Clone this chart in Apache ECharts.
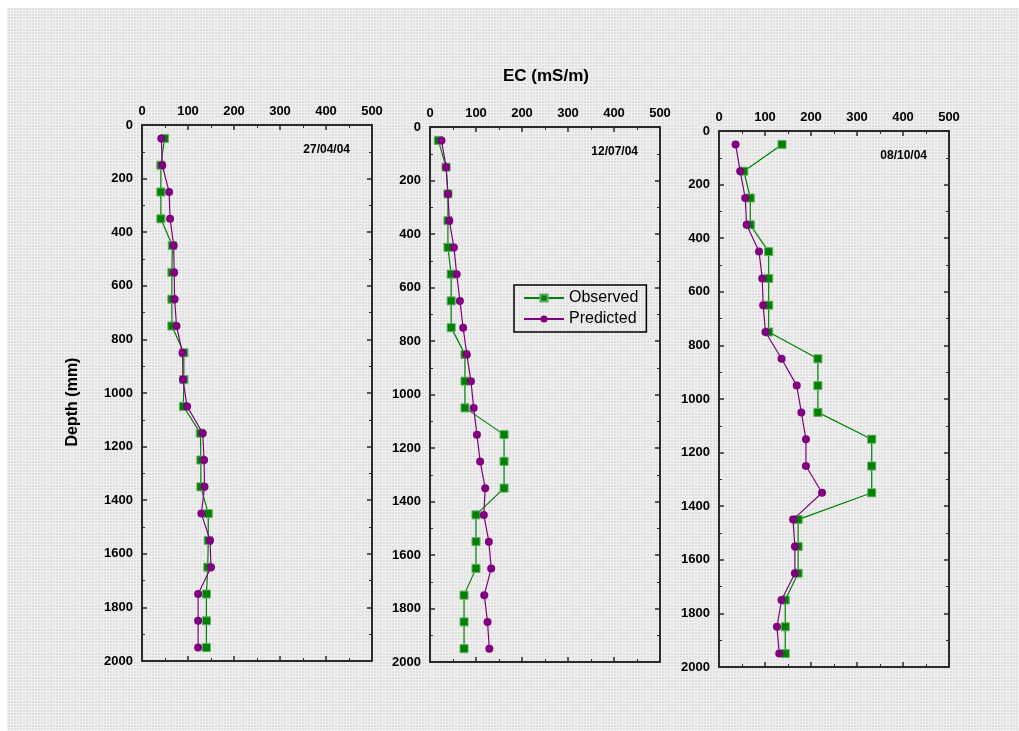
<!DOCTYPE html>
<html>
<head>
<meta charset="utf-8">
<script src="https://cdn.jsdelivr.net/npm/echarts@6/dist/echarts.min.js"></script>
<style>
  html, body { margin: 0; padding: 0; background: #ffffff; }
  #wrap { position: relative; width: 1019px; height: 731px; background: #ffffff; }
  #bg {
    position: absolute; left: 7px; top: 8px; right: 0; bottom: 0;
    background-color: #e0e0e0;
    background-image:
      repeating-linear-gradient(0deg, rgba(255,255,255,0.45) 0 1px, transparent 1px 3px),
      repeating-linear-gradient(90deg, rgba(255,255,255,0.45) 0 1px, transparent 1px 3px);
  }
  #chart { position: absolute; left: 0; top: 0; width: 1019px; height: 731px; }
</style>
</head>
<body>
<div id="wrap">
  <div id="bg"></div>
  <div id="chart"></div>
</div>
<script>
// Sampling depths (mm)
const depths = [50, 150, 250, 350, 450, 550, 650, 750, 850, 950,
                1050, 1150, 1250, 1350, 1450, 1550, 1650, 1750, 1850, 1950];

// Sampling dates, one panel each
const dates = ['27/04/04', '12/07/04', '08/10/04'];

// EC (mS/m) per date
const observed1 = [49, 41, 41, 41, 66, 65, 65, 65, 91, 91, 90, 127, 128, 128, 144, 144, 143, 140, 140, 140];
const predicted1 = [42, 44, 59, 61, 69, 70, 71, 75, 88, 89, 98, 132, 135, 136, 129, 148, 150, 122, 122, 122];

const observed2 = [18, 35, 39, 39, 39, 46, 46, 46, 76, 76, 76, 161, 161, 161, 100, 100, 100, 74, 74, 74];
const predicted2 = [25, 35, 39, 42, 52, 58, 65, 72, 80, 89, 95, 102, 109, 120, 117, 128, 133, 118, 125, 129];

const observed3 = [137, 54, 68, 68, 108, 108, 108, 108, 215, 215, 215, 332, 332, 332, 172, 172, 172, 144, 144, 144];
const predicted3 = [36, 46, 57, 60, 87, 94, 96, 101, 136, 169, 179, 189, 189, 224, 161, 165, 165, 136, 126, 131];

const xTicks = [0, 100, 200, 300, 400, 500];
const yTicks = [0, 200, 400, 600, 800, 1000, 1200, 1400, 1600, 1800, 2000];

const observedSets = [observed1, observed2, observed3];
const predictedSets = [predicted1, predicted2, predicted3];

const GREEN = '#008000';
const PURPLE = '#800080';
const AXIS = '#2b2b2b';
const FONT = 'Liberation Sans, Arial, sans-serif';

const grids = [
  { left: 142, top: 125, width: 230, height: 536 },
  { left: 430, top: 127, width: 230, height: 535 },
  { left: 719, top: 131, width: 230, height: 536 }
];

const pair = (vals) => vals.map((v, i) => [v, depths[i]]);
const plain = (v) => String(v);

const tickInside = { show: true, inside: true, length: 5, lineStyle: { color: AXIS, width: 1.5 } };
const minorInside = { show: true, splitNumber: 2, length: 3, lineStyle: { color: AXIS, width: 1 } };
const axisLine = { show: true, onZero: false, lineStyle: { color: AXIS, width: 2 } };
const labelStyle = { color: '#000', fontFamily: FONT, fontWeight: 'bold', fontSize: 13, formatter: plain };

const xAxes = [], yAxes = [], series = [], graphics = [];

grids.forEach((g, k) => {
  // top axis with labels, plus a mirrored bottom axis for the box ticks
  xAxes.push({
    gridIndex: k, type: 'value', position: 'top', min: xTicks[0], max: xTicks[xTicks.length - 1],
    interval: 100, axisLine, axisTick: tickInside, minorTick: minorInside,
    splitLine: { show: false },
    axisLabel: Object.assign({ margin: 7 }, labelStyle)
  });
  xAxes.push({
    gridIndex: k, type: 'value', position: 'bottom', min: xTicks[0], max: xTicks[xTicks.length - 1],
    interval: 100, axisLine, axisTick: tickInside, minorTick: minorInside,
    splitLine: { show: false }, axisLabel: { show: false }
  });
  yAxes.push({
    gridIndex: k, type: 'value', position: 'left', inverse: true,
    min: yTicks[0], max: yTicks[yTicks.length - 1], interval: 200,
    axisLine, axisTick: tickInside, minorTick: minorInside,
    splitLine: { show: false },
    axisLabel: Object.assign({ margin: 9 }, labelStyle)
  });
  yAxes.push({
    gridIndex: k, type: 'value', position: 'right', inverse: true,
    min: yTicks[0], max: yTicks[yTicks.length - 1], interval: 200,
    axisLine, axisTick: tickInside, minorTick: minorInside,
    splitLine: { show: false }, axisLabel: { show: false }
  });

  series.push({
    name: 'Observed', type: 'line',
    xAxisIndex: 2 * k, yAxisIndex: 2 * k,
    data: pair(observedSets[k]),
    symbol: 'rect', symbolSize: 8,
    lineStyle: { color: GREEN, width: 1.2 },
    itemStyle: { color: GREEN, borderColor: '#5fae5f', borderWidth: 1 },
    animation: false, z: 3
  });
  series.push({
    name: 'Predicted', type: 'line',
    xAxisIndex: 2 * k, yAxisIndex: 2 * k,
    data: pair(predictedSets[k]),
    symbol: 'circle', symbolSize: 8,
    lineStyle: { color: PURPLE, width: 1.2 },
    itemStyle: { color: PURPLE },
    animation: false, z: 4
  });

  graphics.push({
    type: 'text',
    right: 1019 - (g.left + g.width) + 22,
    top: g.top + 19,
    style: { text: dates[k], fill: '#000', font: 'bold 12px ' + FONT }
  });
});

graphics.push({
  type: 'text', left: 503, top: 68,
  style: { text: 'EC (mS/m)', fill: '#000', font: 'bold 17px ' + FONT }
});
graphics.push({
  type: 'text', x: 73, y: 402, rotation: Math.PI / 2,
  style: { text: 'Depth (mm)', fill: '#000', font: 'bold 16px ' + FONT, align: 'center', verticalAlign: 'middle' }
});

const chart = echarts.init(document.getElementById('chart'), null, { renderer: 'canvas' });
chart.setOption({
  backgroundColor: 'transparent',
  animation: false,
  grid: grids.map(g => Object.assign({ containLabel: false }, g)),
  xAxis: xAxes,
  yAxis: yAxes,
  legend: {
    data: ['Observed', 'Predicted'],
    orient: 'vertical',
    left: 514, top: 285,
    padding: [5, 8, 5, 9],
    itemGap: 5,
    itemWidth: 40, itemHeight: 9,
    borderColor: '#000', borderWidth: 1.5,
    backgroundColor: 'transparent',
    textStyle: { color: '#000', fontFamily: FONT, fontSize: 16 }
  },
  graphic: graphics,
  series
});
</script>
</body>
</html>
